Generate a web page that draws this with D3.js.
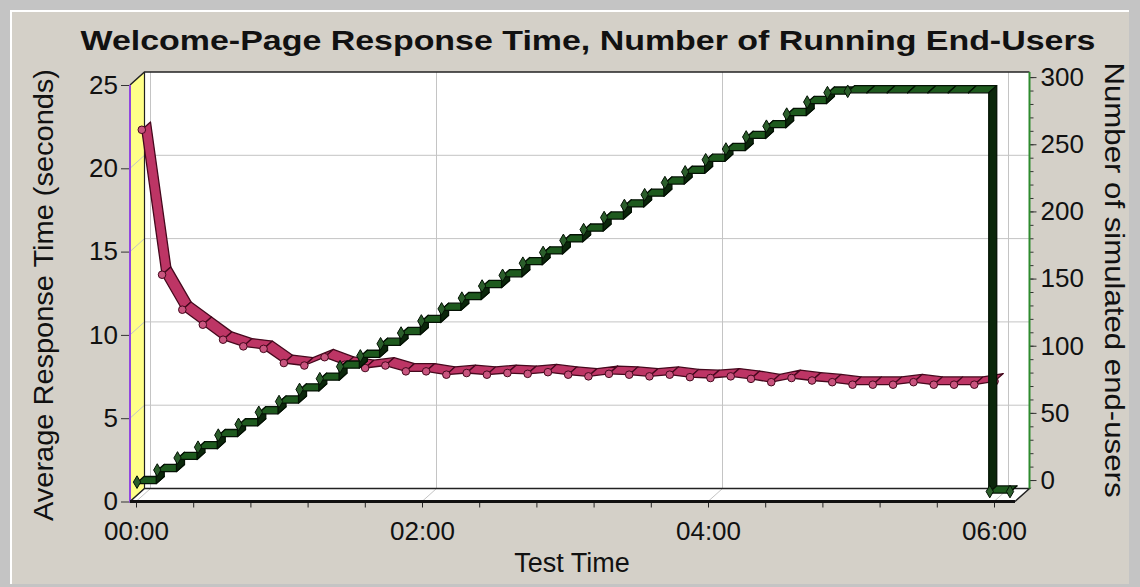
<!DOCTYPE html>
<html>
<head>
<meta charset="utf-8">
<script src="https://cdn.jsdelivr.net/npm/d3@7"></script>
<style>
  body { margin: 0; background: #c4c4c4; }
  svg { display: block; font-family: "Liberation Sans", Arial, sans-serif; }
</style>
</head>
<body>
<svg id="chart"></svg>
<script>
// sample times (seconds from test start)
const seconds = [0, 8.5, 17, 25.6, 34.1, 42.6, 51.1, 59.6, 68.2, 76.7, 85.2, 93.7, 102.2, 110.8,
  119.3, 127.8, 136.3, 144.8, 153.4, 161.9, 170.4, 178.9, 187.4, 196, 204.5, 213, 221.5, 230,
  238.6, 247.1, 255.6, 264.1, 272.6, 281.2, 289.7, 298.2, 306.7, 315.2, 323.8, 332.3, 340.8,
  349.3, 357.8, 366.3];

// average response time, seconds (left axis)
const responseTime = [22.0, 13.3, 11.2, 10.3, 9.4, 9.0, 8.85, 8.0, 7.85, 8.35, 7.9, 7.7, 7.85,
  7.5, 7.5, 7.3, 7.4, 7.3, 7.4, 7.35, 7.45, 7.3, 7.2, 7.35, 7.3, 7.2, 7.3, 7.15, 7.1, 7.2,
  7.05, 6.85, 7.1, 6.95, 6.85, 6.7, 6.7, 6.7, 6.85, 6.7, 6.7, 6.7, 6.9];

// running end-users (right axis)
const runningUsers = [7, 16, 25, 33, 42, 50, 59, 67, 76, 84, 93, 101, 110, 118, 127, 136, 144,
  153, 161, 170, 178, 187, 195, 204, 213, 221, 230, 238, 247, 255, 264, 272, 281, 290, 297,
  298, 298, 298, 298, 298, 298, 298, 0, 0];

const timeTicks = [0, 120, 240, 360];
const timeLabels = ["00:00", "02:00", "04:00", "06:00"];
const leftTicks = [0, 5, 10, 15, 20, 25];
const rightTicks = [0, 50, 100, 150, 200, 250, 300];

const W = 1140, H = 587;
const X0 = 130, X1 = 1015, Y0 = 501.5, Y1 = 85;   // front plane
const DX = 14.5, DY = -13;                          // depth of the 3D box
const FONT = "'Liberation Sans', Arial, sans-serif";
const TICK_FONT = 26;

const x = d3.scaleLinear().domain([0, 360]).range([136, 994]);
const yL = d3.scaleLinear().domain([0, 25]).range([Y0, Y1]);
const yR = d3.scaleLinear().domain([-6.3, 303.8]).range([Y0, Y1]);

const svg = d3.select("#chart").attr("width", W).attr("height", H);

// frame
svg.append("rect").attr("width", W).attr("height", H).attr("fill", "#c4c4c4");
svg.append("rect").attr("x", 11).attr("y", 11).attr("width", 1118).attr("height", 573)
  .attr("fill", "#d4d0c8");
svg.append("path").attr("d", "M11,584V11H1129").attr("fill", "none")
  .attr("stroke", "#ffffff").attr("stroke-width", 2);

// back wall
svg.append("rect").attr("x", X0 + DX).attr("y", Y1 + DY)
  .attr("width", X1 - X0).attr("height", Y0 - Y1).attr("fill", "#ffffff");

// left wall (yellow)
svg.append("polygon")
  .attr("points", [[X0, Y1], [X0 + DX, Y1 + DY], [X0 + DX, Y0 + DY], [X0, Y0]].join(" "))
  .attr("fill", "#ffff88");

// floor
svg.append("polygon")
  .attr("points", [[X0, Y0], [X1, Y0], [X1 + DX, Y0 + DY], [X0 + DX, Y0 + DY]].join(" "))
  .attr("fill", "#ffffff");

// grid
const grid = svg.append("g").attr("stroke", "#c4c4c4").attr("stroke-width", 1).attr("fill", "none");
leftTicks.filter(v => v > 0 && v < 25).forEach(v => {
  grid.append("line").attr("x1", X0 + DX).attr("x2", X1 + DX)
    .attr("y1", yL(v) + DY).attr("y2", yL(v) + DY);
  grid.append("line").attr("x1", X0).attr("y1", yL(v))
    .attr("x2", X0 + DX).attr("y2", yL(v) + DY);
});
timeTicks.forEach(t => {
  grid.append("line").attr("x1", x(t) + DX).attr("x2", x(t) + DX)
    .attr("y1", Y1 + DY).attr("y2", Y0 + DY);
  grid.append("line").attr("x1", x(t)).attr("y1", Y0)
    .attr("x2", x(t) + DX).attr("y2", Y0 + DY);
});

// box edges
const edges = svg.append("g").attr("fill", "none").attr("stroke", "#222");
edges.append("path").attr("d", `M${X0},${Y1}L${X0 + DX},${Y1 + DY}H${X1 + DX}`).attr("stroke-width", 1.5);
edges.append("path").attr("d", `M${X0 + DX},${Y1 + DY}V${Y0 + DY}`).attr("stroke-width", 1.2);
edges.append("path").attr("d", `M${X0},${Y0}L${X0 + DX},${Y0 + DY}H${X1 + DX}L${X1},${Y0}`)
  .attr("stroke-width", 1.5);

// 3D ribbon made of one parallelogram per segment
function ribbon(layer, pts, o0, o1, fill, stroke) {
  for (let i = 0; i < pts.length - 1; i++) {
    const a = pts[i], b = pts[i + 1];
    const poly = [
      [a[0] + o0[0], a[1] + o0[1]], [b[0] + o0[0], b[1] + o0[1]],
      [b[0] + o1[0], b[1] + o1[1]], [a[0] + o1[0], a[1] + o1[1]]
    ];
    layer.append("polygon").attr("points", poly.join(" "))
      .attr("fill", fill(a, b)).attr("stroke", stroke)
      .attr("stroke-width", 1.3).attr("stroke-linejoin", "round");
  }
}

// response time series (back part of the depth)
const redOff0 = [DX * 0.4, DY * 0.4], redOff1 = [DX, DY];
const redPts = responseTime.map((v, i) => [x(seconds[i]), yL(v)]);
const gRed = svg.append("g");
ribbon(gRed, redPts, redOff0, redOff1, () => "#bd3565", "#45081d");
gRed.selectAll("circle").data(redPts).join("circle")
  .attr("cx", d => d[0] + redOff0[0]).attr("cy", d => d[1] + redOff0[1])
  .attr("r", 3.8).attr("fill", "#c9557f").attr("stroke", "#45081d").attr("stroke-width", 1);

// running users series (front part, stepped)
const greenOff0 = [0, 0], greenOff1 = [DX * 0.55, DY * 0.55];
const userPts = runningUsers.map((n, i) => [x(seconds[i]), yR(n)]);
const stepPts = [];
userPts.forEach((p, i) => {
  stepPts.push(p);
  if (i < userPts.length - 1) stepPts.push([userPts[i + 1][0], p[1]]);
});
const gGreen = svg.append("g");
ribbon(gGreen, stepPts, greenOff0, greenOff1,
  (a, b) => Math.abs(a[1] - b[1]) > Math.abs(a[0] - b[0]) ? "#0b270b" : "#1e5a1e", "#041204");
const markPts = userPts.filter((p, i) =>
  i === 0 || i === userPts.length - 1 || runningUsers[i] !== runningUsers[i - 1]);
gGreen.selectAll("path.mk").data(markPts).join("path").attr("class", "mk")
  .attr("d", d3.symbol(d3.symbolDiamond, 46))
  .attr("transform", d => `translate(${d[0] + 1},${d[1] - 1.5})`)
  .attr("fill", "#2b5e2b").attr("stroke", "#041204").attr("stroke-width", 1);

// left axis
const gL = svg.append("g").attr("transform", `translate(${X0},0)`)
  .call(d3.axisLeft(yL).tickValues(leftTicks).tickSize(9).tickPadding(3));
gL.select(".domain").remove();
gL.attr("font-size", TICK_FONT).attr("font-family", FONT);
gL.selectAll(".tick line").attr("stroke", "#333");
gL.selectAll(".tick text").attr("fill", "#111");
svg.append("line").attr("x1", X0).attr("x2", X0).attr("y1", Y1).attr("y2", Y0 + 1)
  .attr("stroke", "#9146e0").attr("stroke-width", 2);

// right axis (drawn on the back plane)
const yRb = yR.copy().range([Y0 + DY, Y1 + DY]);
const gR = svg.append("g").attr("transform", `translate(${X1 + DX},0)`);
gR.append("g").call(d3.axisRight(yRb).tickValues(d3.range(0, 301, 10)).tickSize(4).tickFormat(""));
gR.append("g").call(d3.axisRight(yRb).tickValues(rightTicks).tickSize(7).tickPadding(4));
gR.selectAll(".domain").remove();
gR.selectAll("g").attr("font-size", TICK_FONT).attr("font-family", FONT);
gR.selectAll(".tick line").attr("stroke", "#333");
gR.selectAll(".tick text").attr("fill", "#111");
svg.append("line").attr("x1", X1 + DX).attr("x2", X1 + DX).attr("y1", Y1 + DY).attr("y2", Y0 + DY)
  .attr("stroke", "#2e8b2e").attr("stroke-width", 2);

// bottom axis
const gB = svg.append("g").attr("transform", `translate(0,${Y0})`)
  .call(d3.axisBottom(x).tickValues(d3.range(0, 361, 24)).tickSize(6).tickPadding(14)
    .tickFormat(d => {
      const k = timeTicks.indexOf(d);
      return k < 0 ? "" : timeLabels[k];
    }));
gB.select(".domain").remove();
gB.attr("font-size", TICK_FONT).attr("font-family", FONT);
gB.selectAll(".tick line").attr("stroke", "#222");
gB.selectAll(".tick text").attr("fill", "#111");
svg.append("line").attr("x1", X0).attr("x2", X1).attr("y1", Y0).attr("y2", Y0)
  .attr("stroke", "#111").attr("stroke-width", 3);

// titles
svg.append("text").attr("x", 588).attr("y", 50).attr("text-anchor", "middle")
  .attr("font-size", 28).attr("font-weight", "bold").attr("fill", "#111")
  .attr("textLength", 1015).attr("lengthAdjust", "spacingAndGlyphs")
  .text("Welcome-Page Response Time, Number of Running End-Users");

svg.append("text").attr("transform", "translate(53,295) rotate(-90)")
  .attr("text-anchor", "middle").attr("font-size", 28).attr("fill", "#111")
  .attr("textLength", 452).attr("lengthAdjust", "spacingAndGlyphs")
  .text("Average Response Time (seconds)");

svg.append("text").attr("transform", "translate(1105,280) rotate(90)")
  .attr("text-anchor", "middle").attr("font-size", 28).attr("fill", "#111")
  .attr("textLength", 435).attr("lengthAdjust", "spacingAndGlyphs")
  .text("Number of simulated end-users");

svg.append("text").attr("x", 572).attr("y", 572).attr("text-anchor", "middle")
  .attr("font-size", 27).attr("fill", "#111")
  .text("Test Time");
</script>
</body>
</html>
